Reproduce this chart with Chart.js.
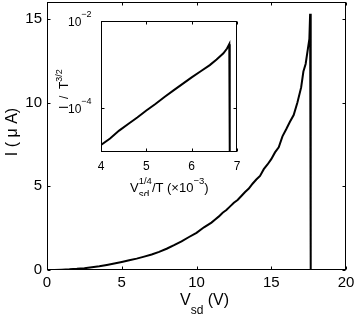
<!DOCTYPE html>
<html>
<head>
<meta charset="utf-8">
<script src="https://cdn.jsdelivr.net/npm/chart.js@4"></script>
<style>
body { margin: 0; background: #fff; }
#wrap { position: relative; width: 357px; height: 317px; }
canvas { position: absolute; }
</style>
</head>
<body>
<div id="wrap">
  <canvas id="main" width="357" height="317" style="left:0;top:0"></canvas>
  <canvas id="inset" width="200" height="190" style="left:50px;top:6px"></canvas>
</div>
<script>
// I-V sweep (main plot)
var voltage = [0, 0.5, 1, 1.5, 2, 2.5, 3, 3.5, 4, 4.5, 5, 5.5, 6, 6.5, 7, 7.5, 8, 8.5, 9, 9.5,
  10, 10.5, 11, 11.25, 11.5, 11.75, 12, 12.25, 12.5, 12.75, 13, 13.25, 13.5, 13.75, 14, 14.25,
  14.5, 14.75, 15, 15.25, 15.5, 15.75, 16, 16.25, 16.5, 16.75, 17, 17.15, 17.3, 17.45, 17.55,
  17.6, 17.64, 17.8];
var current = [0, 0.005, 0.02, 0.04, 0.07, 0.11, 0.16, 0.22, 0.30, 0.39, 0.48, 0.58, 0.68, 0.80,
  0.93, 1.08, 1.27, 1.48, 1.71, 1.97, 2.22, 2.55, 2.83, 3.02, 3.20, 3.42, 3.58, 3.80, 4.02, 4.18,
  4.42, 4.66, 4.86, 5.15, 5.40, 5.62, 6.02, 6.30, 6.62, 7.02, 7.32, 7.98, 8.40, 8.85, 9.25, 10.0,
  10.9, 11.85, 12.3, 13.2, 13.8, 15.3, 0, 0];
var mainXTicks = [0, 5, 10, 15, 20];
var mainYTicks = [0, 5, 10, 15];

// inset: I/T^(3/2) vs Vsd^(1/4)/T  (x in units of 1e-3)
var invT = [4.0, 4.2, 4.4, 4.6, 4.8, 5.0, 5.2, 5.4, 5.6, 5.8, 6.0, 6.2, 6.4, 6.55, 6.7, 6.78, 6.83, 6.84];
var conductance = [1.45e-5, 2.04e-5, 3.09e-5, 4.37e-5, 6.17e-5, 8.91e-5, 1.26e-4, 1.82e-4, 2.57e-4,
  3.63e-4, 5.13e-4, 7.08e-4, 9.77e-4, 1.32e-3, 1.82e-3, 2.34e-3, 2.95e-3, 1e-5];
var insetXTicks = [4, 5, 6, 7];
var insetYTicks = [1e-4, 1e-2];

var FONT = '"Liberation Sans", Arial, sans-serif';

function pts(xs, ys) {
  return xs.map(function (x, i) { return { x: x, y: ys[i] }; });
}

function fixedScale(size, horiz) {
  return function (s) {
    if (horiz) s.height = size; else s.width = size;
    s.paddingLeft = s.paddingRight = s.paddingTop = s.paddingBottom = 0;
  };
}

function setTicks(list) {
  return function (s) { s.ticks = list.map(function (v) { return { value: v }; }); };
}

// draw text runs [text, size, dy, noAdvance]
function runs(c, list, x, y) {
  var cx = x, lastW = 0;
  list.forEach(function (r) {
    c.font = r[1] + 'px ' + FONT;
    var w = c.measureText(r[0]).width;
    var px = r[3] ? cx - lastW : cx;
    c.fillText(r[0], px, y + (r[2] || 0));
    if (r[3]) { cx = Math.max(cx, px + w); } else { cx += w; lastW = w; }
  });
}

function boxPlugin(xt, yt, len, extra) {
  return {
    id: 'box',
    afterDraw: function (chart) {
      var c = chart.ctx, a = chart.chartArea, sx = chart.scales.x, sy = chart.scales.y;
      var l = Math.round(a.left) + 0.5, r = Math.round(a.right) - 0.5;
      var t = Math.round(a.top) + 0.5, b = Math.round(a.bottom) - 0.5;
      c.save();
      c.strokeStyle = '#000';
      c.lineWidth = 1;
      c.strokeRect(l, t, r - l, b - t);
      c.beginPath();
      xt.forEach(function (v) {
        var p = Math.round(sx.getPixelForValue(v)) + 0.5;
        c.moveTo(p, b); c.lineTo(p, b - len);
        c.moveTo(p, t); c.lineTo(p, t + len);
      });
      yt.forEach(function (v) {
        var p = Math.round(sy.getPixelForValue(v)) + 0.5;
        c.moveTo(l, p); c.lineTo(l + len, p);
        c.moveTo(r, p); c.lineTo(r - len, p);
      });
      c.stroke();
      c.fillStyle = '#000';
      c.textBaseline = 'alphabetic';
      c.textAlign = 'left';
      extra(c, chart);
      c.restore();
    }
  };
}

new Chart(document.getElementById('main').getContext('2d'), {
  type: 'scatter',
  data: {
    datasets: [{
      data: pts(voltage, current),
      showLine: true,
      borderColor: '#000',
      borderWidth: 2,
      pointRadius: 0,
      tension: 0
    }]
  },
  options: {
    responsive: false,
    animation: false,
    layout: { padding: { top: 2, right: 11, left: 0, bottom: 0 } },
    plugins: { legend: { display: false }, tooltip: { enabled: false } },
    scales: {
      x: {
        type: 'linear', min: 0, max: 20,
        afterBuildTicks: setTicks(mainXTicks),
        afterFit: fixedScale(47, true),
        grid: { display: false, drawTicks: false },
        border: { display: false },
        ticks: { color: '#000', padding: 4, maxRotation: 0, font: { family: FONT, size: 15 } }
      },
      y: {
        type: 'linear', min: 0, max: 16,
        afterBuildTicks: setTicks(mainYTicks),
        afterFit: fixedScale(47, false),
        grid: { display: false, drawTicks: false },
        border: { display: false },
        ticks: { color: '#000', padding: 5, font: { family: FONT, size: 15 } }
      }
    }
  },
  plugins: [boxPlugin(mainXTicks, mainYTicks, 3, function (c) {
    runs(c, [['V', 16, 0], ['sd', 12, 9], [' (V)', 16, 0]], 180, 305);
    c.translate(17, 132);
    c.rotate(-Math.PI / 2);
    c.textAlign = 'center';
    c.font = '16px ' + FONT;
    c.fillText('I ( \u03bc A)', 0, 0);
  })]
});

new Chart(document.getElementById('inset').getContext('2d'), {
  type: 'scatter',
  data: {
    datasets: [{
      data: pts(invT, conductance),
      showLine: true,
      borderColor: '#000',
      borderWidth: 2,
      pointRadius: 0,
      tension: 0
    }]
  },
  options: {
    responsive: false,
    animation: false,
    layout: { padding: { top: 15, right: 13, left: 0, bottom: 0 } },
    plugins: { legend: { display: false }, tooltip: { enabled: false } },
    scales: {
      x: {
        type: 'linear', min: 4, max: 7,
        afterBuildTicks: setTicks(insetXTicks),
        afterFit: fixedScale(44, true),
        grid: { display: false, drawTicks: false },
        border: { display: false },
        ticks: { color: '#000', padding: 7, maxRotation: 0, font: { family: FONT, size: 12 } }
      },
      y: {
        type: 'logarithmic', min: 1e-5, max: 1e-2,
        afterBuildTicks: setTicks(insetYTicks),
        afterFit: fixedScale(51, false),
        grid: { display: false, drawTicks: false },
        border: { display: false },
        ticks: { display: false }
      }
    }
  },
  plugins: [boxPlugin(insetXTicks, insetYTicks, 3, function (c, chart) {
    var sy = chart.scales.y;
    [1e-2, 1e-4].forEach(function (v) {
      var p = sy.getPixelForValue(v);
      var e = Math.round(Math.log10(v));
      runs(c, [['10', 12, 0], ['\u2212' + (-e), 9, -9]], 18, p + 5);
    });
    // x title: Vsd^(1/4)/T (x10^-3)
    runs(c, [['V', 13, 0], ['sd', 10, 6], ['1/4', 9.5, -8, true], ['/T (\u00d710', 13, 0], ['\u22123', 9.5, -8], [')', 13, 0]], 80, 186);
    // y title: I / T^(3/2)
    c.translate(18, 81);
    c.rotate(-Math.PI / 2);
    runs(c, [['I', 12, 0], ['  /  ', 12, 0], ['T', 12, 0], ['3/2', 9, -6]], -22, 0);
  })]
});
</script>
</body>
</html>
